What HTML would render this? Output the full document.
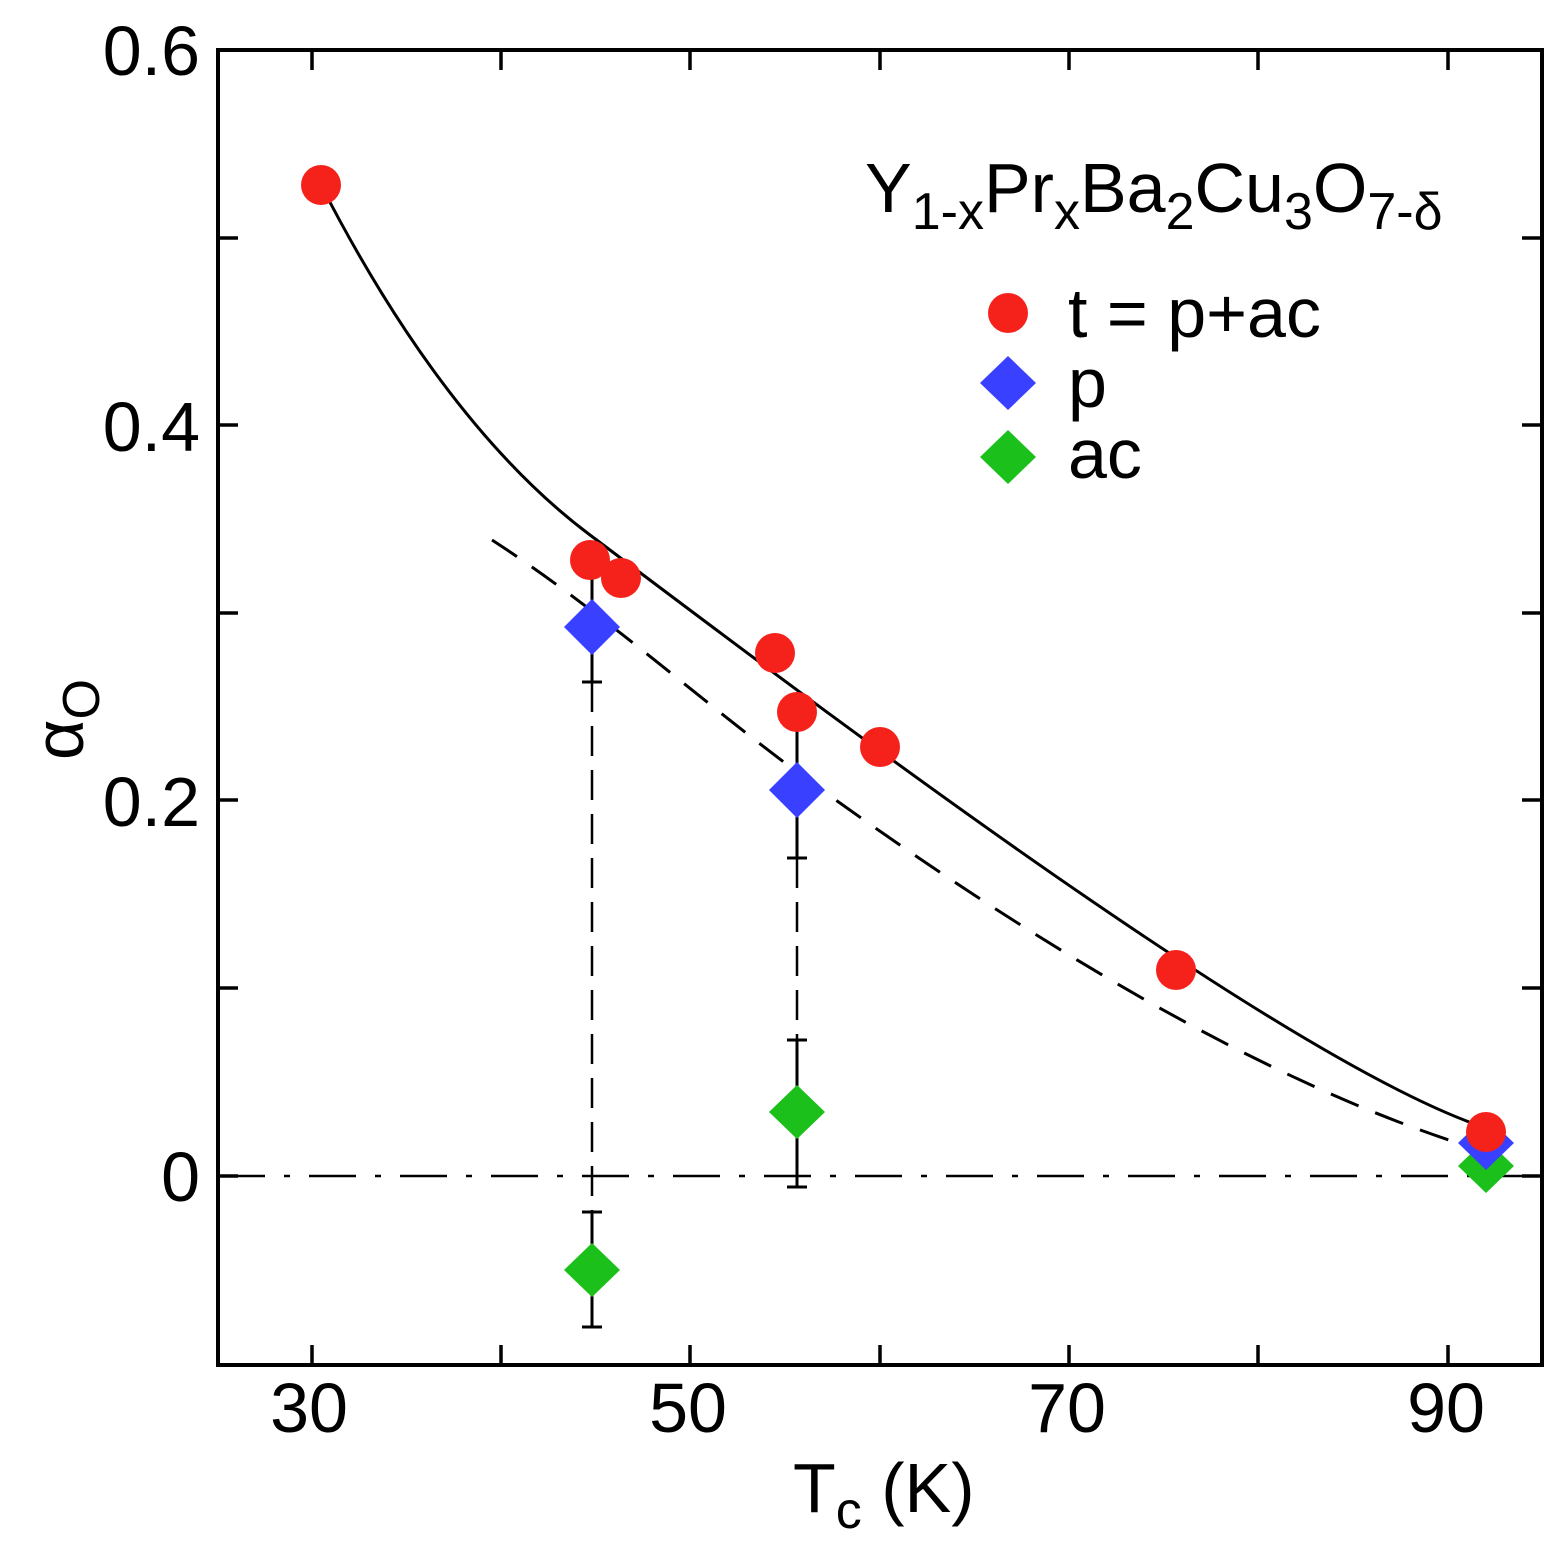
<!DOCTYPE html>
<html><head><style>body{margin:0;background:#fff}svg{display:block}</style></head><body>
<svg width="1565" height="1552" viewBox="0 0 1565 1552" xmlns="http://www.w3.org/2000/svg" font-family="Liberation Sans, Arial, sans-serif">
<rect width="1565" height="1552" fill="#fff"/>
<g stroke="#000" stroke-width="3.5">
<path d="M312 1365v-20M501 1365v-20M690 1365v-20M880 1365v-20M1069 1365v-20M1258 1365v-20M1448 1365v-20"/>
<path d="M312 50v20M501 50v20M690 50v20M880 50v20M1069 50v20M1258 50v20M1448 50v20"/>
<path d="M218 1176h20M218 988h20M218 800h20M218 613h20M218 425h20M218 238h20"/>
<path d="M1542 1176h-20M1542 988h-20M1542 800h-20M1542 613h-20M1542 425h-20M1542 238h-20"/>
</g>
<line x1="218" y1="1176" x2="1542" y2="1176" stroke="#000" stroke-width="2.5" stroke-dasharray="47 19 6 19"/>
<line x1="592" y1="682" x2="592" y2="1212" stroke="#000" stroke-width="2.5" stroke-dasharray="30 14"/>
<line x1="797" y1="858" x2="797" y2="1040" stroke="#000" stroke-width="2.5" stroke-dasharray="30 14"/>
<path d="M321 185 C 380 300, 470 445, 590 535 C 790 685, 1280 1060, 1486 1128" fill="none" stroke="#000" stroke-width="3"/>
<path d="M492 540 C 600 610, 700 700, 797 772 C 1000 920, 1250 1080, 1480 1150" fill="none" stroke="#000" stroke-width="3" stroke-dasharray="30 18"/>
<g stroke="#000" stroke-width="3">
<path d="M592 560V682M582 682h20M592 1212V1327M582 1212h20M582 1327h20"/>
<path d="M797 712V858M787 858h20M797 1040V1187M787 1040h20M787 1187h20"/>
</g>
<rect x="218" y="50" width="1324" height="1315" fill="none" stroke="#000" stroke-width="4"/>
<g fill="#1bc01b">
<path d="M592 1243l28 27-28 27-28-27z"/>
<path d="M797 1085l28 27-28 27-28-27z"/>
<path d="M1486 1139l28 27-28 27-28-27z"/>
</g>
<g fill="#3a40ff">
<path d="M592 599l28 28-28 28-28-28z"/>
<path d="M797 762l28 28-28 28-28-28z"/>
<path d="M1486 1116l28 27-28 27-28-27z"/>
</g>
<g fill="#f5221b">
<circle cx="321" cy="185" r="20"/><circle cx="590" cy="560" r="20"/><circle cx="621" cy="578" r="20"/>
<circle cx="775" cy="653" r="20"/><circle cx="797" cy="712" r="20"/><circle cx="880" cy="747" r="20"/>
<circle cx="1176" cy="970" r="20"/><circle cx="1486" cy="1132" r="20"/>
</g>
<circle cx="1008" cy="313" r="20" fill="#f5221b"/>
<path d="M1008 356l28 27-28 27-28-27z" fill="#3a40ff"/>
<path d="M1008 430l28 27-28 27-28-27z" fill="#1bc01b"/>
<g font-size="70" fill="#000">
<text x="1068" y="337">t = p+ac</text>
<text x="1068" y="407">p</text>
<text x="1068" y="478">ac</text>
<text x="865" y="212" font-size="70">Y<tspan font-size="52" dy="17">1-x</tspan><tspan dy="-17">Pr</tspan><tspan font-size="52" dy="17">x</tspan><tspan dy="-17">Ba</tspan><tspan font-size="52" dy="17">2</tspan><tspan dy="-17">Cu</tspan><tspan font-size="52" dy="17">3</tspan><tspan dy="-17">O</tspan><tspan font-size="52" dy="17">7-δ</tspan></text>
</g>
<g font-size="70" fill="#000" text-anchor="end">
<text x="200" y="1201">0</text><text x="200" y="826">0.2</text><text x="200" y="451">0.4</text><text x="200" y="75">0.6</text>
</g>
<g font-size="70" fill="#000" text-anchor="middle">
<text x="309" y="1432">30</text><text x="688" y="1432">50</text><text x="1067" y="1432">70</text><text x="1446" y="1432">90</text>
</g>
<text x="793" y="1512" font-size="70">T<tspan font-size="52" dy="16">c</tspan><tspan dy="-16"> (K)</tspan></text>
<text transform="translate(83,760) rotate(-90)" font-size="70">α<tspan font-size="52" dy="16">O</tspan></text>
</svg>
</body></html>
